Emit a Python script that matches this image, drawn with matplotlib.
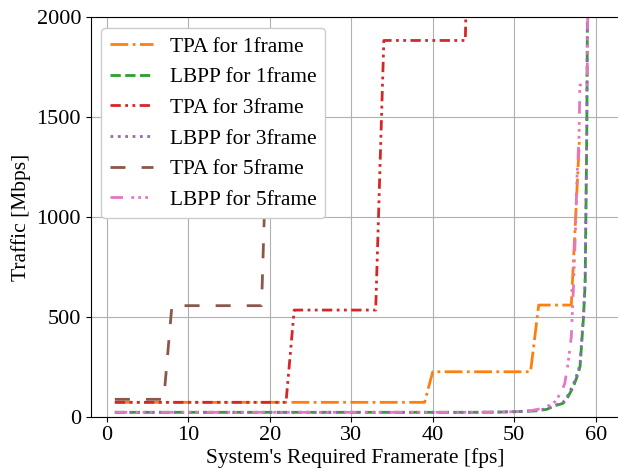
import matplotlib
matplotlib.use("Agg")
import matplotlib.pyplot as plt

plt.rcParams['font.family'] = ['Liberation Serif', 'DejaVu Serif']
plt.rcParams['font.size'] = 15

# ---- data ----
tpa1_x = [1, 39, 40, 52, 53, 57, 58]
tpa1_y = [72, 72, 225, 225, 559, 559, 1390]

lbpp1_x = [1, 10, 20, 30, 40, 45, 48, 50, 52, 53, 54, 55, 56, 56.6, 57.25, 57.7, 58.07, 58.5, 58.7, 58.9, 59.0]
lbpp1_y = [22, 22, 22, 22, 22, 22, 23, 25, 28, 30, 37, 55, 67, 100, 150, 200, 250, 500, 668, 1419, 2200]

tpa3_x = [1, 22, 23, 33, 34, 44, 45]
tpa3_y = [72, 72, 534, 534, 1884, 1884, 4000]

lbpp3_x = [1, 10, 20, 30, 40, 45, 48, 50, 52, 53, 54, 55, 56, 56.6, 57.25, 57.7, 58.07, 58.5, 58.7, 58.9, 59.0]
lbpp3_y = [22, 22, 22, 22, 22, 22, 23, 25, 29, 32, 40, 57, 72, 108, 162, 212, 262, 515, 690, 1440, 2200]

tpa5_x = [1, 7, 8, 19, 20]
tpa5_y = [87, 87, 556, 556, 1900]

lbpp5_x = [1, 10, 20, 30, 40, 45, 48, 50, 52, 53, 54, 55, 55.8, 56.2, 56.6, 57.0, 57.25, 57.5, 57.7, 57.95, 58.05, 58.95, 59.05]
lbpp5_y = [22, 22, 22, 22, 22, 22, 23, 25, 30, 38, 50, 75, 125, 167, 267, 400, 634, 918, 1200, 1400, 1661, 1661, 2200]

labels = ["TPA for 1frame", "LBPP for 1frame", "TPA for 3frame",
          "LBPP for 3frame", "TPA for 5frame", "LBPP for 5frame"]
x_ticks = [0, 10, 20, 30, 40, 50, 60]
y_ticks = [0, 500, 1000, 1500, 2000]

# ---- figure ----
fig = plt.figure(figsize=(6.18, 4.76), dpi=100)
ax = fig.add_axes([90.8 / 618, 1 - 416.7 / 476, (619.8 - 90.8) / 618, (416.7 - 17.3) / 476])

lw = 2.0
ax.plot(tpa1_x, tpa1_y, color='#ff7f0e', lw=lw, linestyle=(0, (6.4, 1.6, 1, 1.6)), label=labels[0])
ax.plot(lbpp1_x, lbpp1_y, color='#2ca02c', lw=lw, linestyle=(0, (3.7, 1.6)), label=labels[1])
ax.plot(tpa3_x, tpa3_y, color='#d62728', lw=lw, linestyle=(0, (3.7, 1.6, 1, 1.6, 1, 1.6)), label=labels[2])
ax.plot(lbpp3_x, lbpp3_y, color='#9467bd', lw=lw, linestyle=(0, (1, 1.65)), label=labels[3])
ax.plot(tpa5_x, tpa5_y, color='#8c564b', lw=lw, linestyle=(0, (5.4, 5.8)), label=labels[4])
ax.plot(lbpp5_x, lbpp5_y, color='#e377c2', lw=lw, linestyle=(0, (4.5, 3, 1, 1.5, 1, 1.5, 1, 3)), label=labels[5])

ax.set_xlim(-1.95, 62.95)
ax.set_ylim(0, 2000)
ax.set_xticks(x_ticks)
ax.set_yticks(y_ticks)
ax.grid(True, color='#b0b0b0', lw=0.8)
ax.set_axisbelow(True)
ax.set_xlabel("System's Required Framerate [fps]", fontsize=15.5, labelpad=2)
ax.set_ylabel("Traffic [Mbps]", fontsize=15.5, labelpad=4)
ax.tick_params(labelsize=16)
ax.legend(loc='upper left', fontsize=15.4, labelspacing=0.5, handlelength=2.0,
          framealpha=1.0)

fig.savefig("out.png", dpi=100)
